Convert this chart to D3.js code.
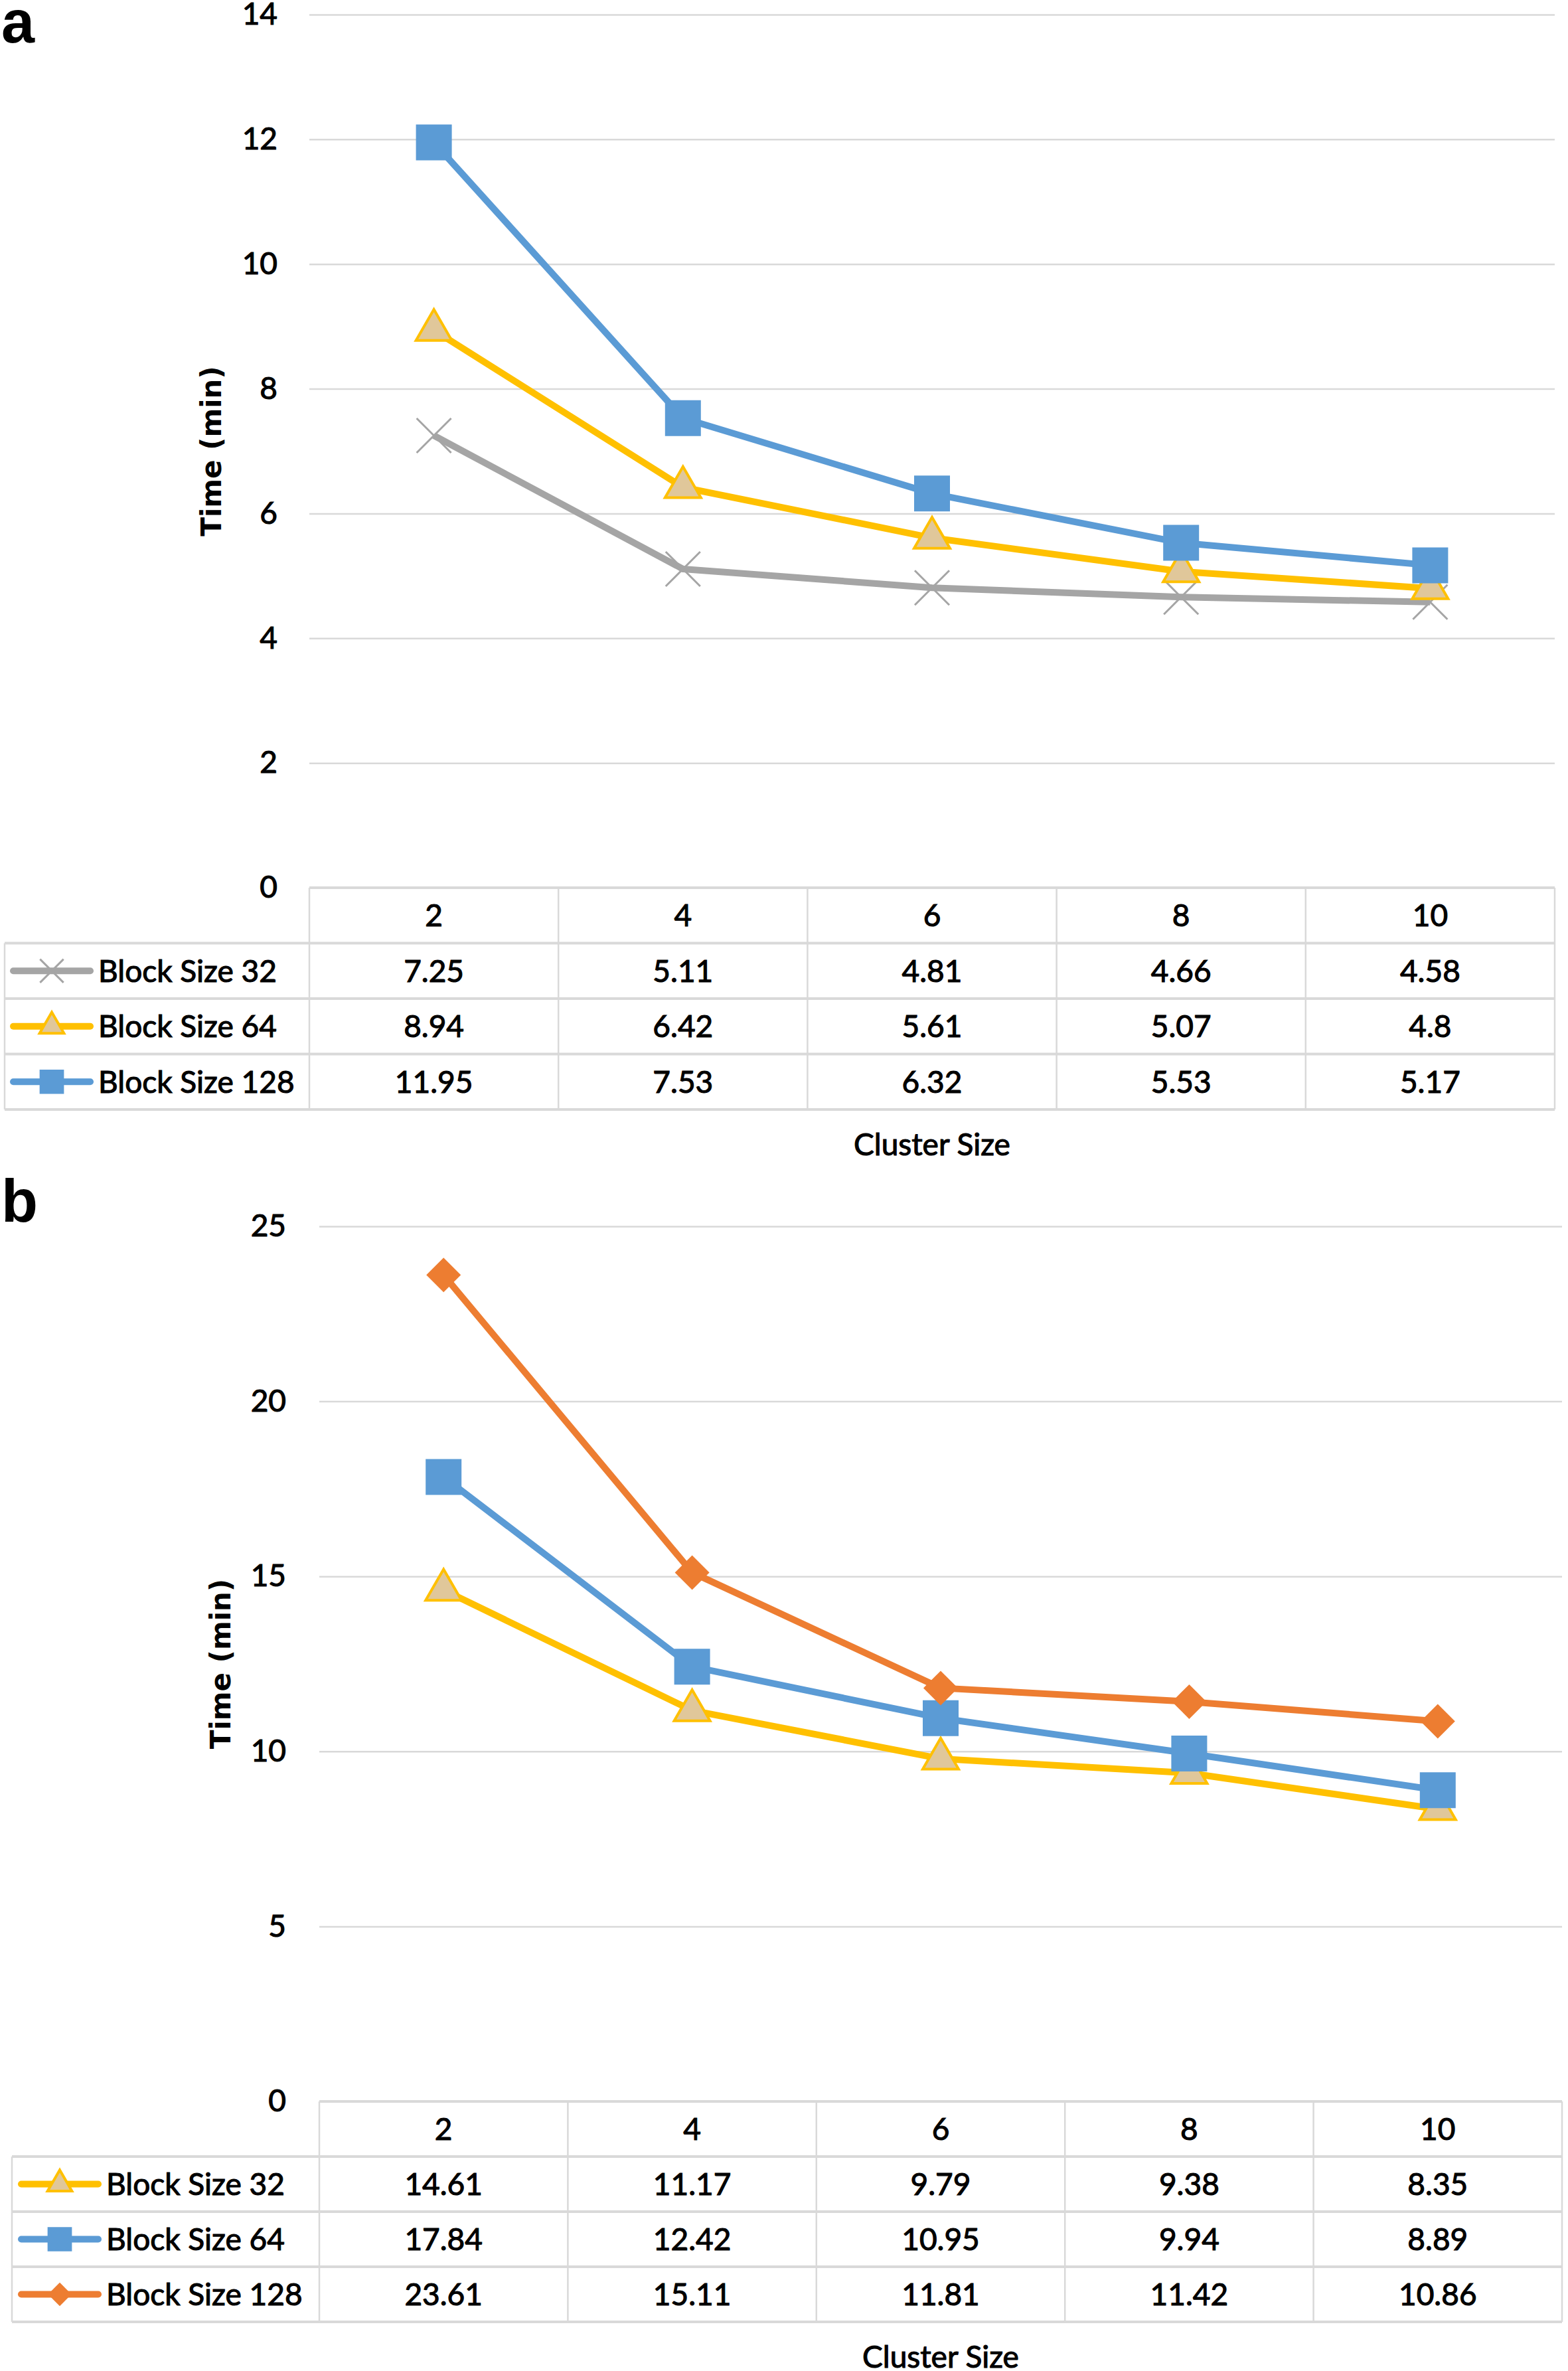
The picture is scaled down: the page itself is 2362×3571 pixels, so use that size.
<!DOCTYPE html>
<meta charset="utf-8">
<html>
<head>
<script src="https://d3js.org/d3.v7.min.js"></script>
<style>
  body { margin: 0; background: #fff; }
  text { font-family: Lato, "Liberation Sans", sans-serif; fill: #000; }
  .ink { stroke: #000; stroke-width: 1.1px; }
</style>
</head>
<body>
<script>
// cluster sizes (x categories, also the table header)
const clusterSizes = [2, 4, 6, 8, 10];

// panel a
const aNames = ["Block Size 32", "Block Size 64", "Block Size 128"];
const a32 = [7.25, 5.11, 4.81, 4.66, 4.58];
const a64 = [8.94, 6.42, 5.61, 5.07, 4.8];
const a128 = [11.95, 7.53, 6.32, 5.53, 5.17];
const aTicks = [0, 2, 4, 6, 8, 10, 12, 14];

// panel b
const bNames = ["Block Size 32", "Block Size 64", "Block Size 128"];
const b32 = [14.61, 11.17, 9.79, 9.38, 8.35];
const b64 = [17.84, 12.42, 10.95, 9.94, 8.89];
const b128 = [23.61, 15.11, 11.81, 11.42, 10.86];
const bTicks = [0, 5, 10, 15, 20, 25];

const GRAY = "#A5A5A5", YEL = "#FFC000", BLUE = "#5B9BD5", ORANGE = "#ED7D31";
const GRID = "#D9D9D9";

const W = 2362, H = 3571;
const svg = d3.select("body").append("svg")
  .attr("width", W)
  .attr("height", H);

// marker shapes, drawn round (0,0)
function markerPath(kind, s) {
  if (kind == "square") return d3.symbol(d3.symbolSquare, s * s)();
  if (kind == "triangle") return d3.symbol(d3.symbolTriangle, s * s * Math.sqrt(3) / 4)();
  if (kind == "diamond") return d3.symbol(d3.symbolSquare, s * s / 2)();
  // X
  const p = d3.path(), h = s / 2;
  p.moveTo(-h, -h); p.lineTo(h, h);
  p.moveTo(-h, h); p.lineTo(h, -h);
  return p.toString();
}

function addMarker(g, kind, color, s, tx, ty) {
  const m = g.append("path")
    .attr("d", markerPath(kind, s))
    .attr("transform", `translate(${tx},${ty})` + (kind == "diamond" ? " rotate(45)" : ""));
  if (kind == "x") {
    m.attr("fill", "none").attr("stroke", color).attr("stroke-width", 3);
  } else if (kind == "triangle") {
    m.attr("fill", "#E0C79A").attr("stroke", color).attr("stroke-width", 4);
  } else {
    m.attr("fill", color);
  }
}

function drawPanel(cfg) {
  const g = svg.append("g");

  // panel letter
  g.append("text")
    .attr("x", cfg.labelX)
    .attr("y", cfg.labelY)
    .style("font-family", "'Liberation Sans', Arial, sans-serif")
    .style("font-weight", "bold")
    .style("font-size", "90px")
    .text(cfg.label);

  const x = d3.scaleBand()
    .domain(clusterSizes)
    .range([cfg.left, cfg.right]);
  const cx = d => x(d) + x.bandwidth() / 2;

  const y = d3.scaleLinear()
    .domain([0, cfg.yMax])
    .range([cfg.zero, cfg.top]);

  // y axis with gridlines
  const yAxis = g.append("g")
    .attr("transform", `translate(${cfg.left},0)`)
    .call(d3.axisLeft(y).tickValues(cfg.ticks).tickSize(-(cfg.right - cfg.left)).tickPadding(cfg.tickPad));
  yAxis.select(".domain").remove();
  yAxis.selectAll("line").attr("stroke", GRID).attr("stroke-width", 2.5);
  yAxis.selectAll("text")
    .attr("class", "ink")
    .style("font-family", "Lato, sans-serif")
    .style("font-size", "46px")
    .attr("fill", "#000");

  g.append("text")
    .attr("transform", `translate(${cfg.titleX},${(cfg.top + cfg.zero) / 2}) rotate(-90)`)
    .attr("text-anchor", "middle")
    .attr("dy", "0.36em")
    .style("font-family", "'DejaVu Sans', sans-serif")
    .style("font-weight", "bold")
    .style("font-size", "42px")
    .text("Time (min)");

  // series lines + markers
  const line = d3.line()
    .x((v, i) => cx(clusterSizes[i]))
    .y(v => y(v));

  cfg.series.forEach(s => {
    g.append("path")
      .attr("d", line(s.values))
      .attr("fill", "none")
      .attr("stroke", s.color)
      .attr("stroke-width", 10)
      .attr("stroke-linejoin", "round");
    s.values.forEach((v, i) => addMarker(g, s.marker, s.color, s.size, cx(clusterSizes[i]), y(v)));
  });

  // data table under the plot
  const rh = cfg.rowH;
  const bottom = cfg.zero + rh * (cfg.series.length + 1);
  const t = g.append("g");

  // horizontal rules
  t.append("line")
    .attr("x1", cfg.left).attr("x2", cfg.right)
    .attr("y1", cfg.zero).attr("y2", cfg.zero);
  for (let i = 1; i <= cfg.series.length + 1; i++) {
    t.append("line")
      .attr("x1", cfg.tableLeft).attr("x2", cfg.right)
      .attr("y1", cfg.zero + rh * i).attr("y2", cfg.zero + rh * i);
  }
  t.selectAll("line").attr("stroke", GRID).attr("stroke-width", 4);

  // vertical rules
  t.append("line")
    .attr("x1", cfg.tableLeft).attr("x2", cfg.tableLeft)
    .attr("y1", cfg.zero + rh).attr("y2", bottom)
    .attr("stroke", GRID).attr("stroke-width", 2.5);
  clusterSizes.forEach(c => {
    t.append("line")
      .attr("x1", x(c)).attr("x2", x(c))
      .attr("y1", cfg.zero).attr("y2", bottom)
      .attr("stroke", GRID).attr("stroke-width", 2.5);
  });
  t.append("line")
    .attr("x1", cfg.right).attr("x2", cfg.right)
    .attr("y1", cfg.zero).attr("y2", bottom)
    .attr("stroke", GRID).attr("stroke-width", 2.5);

  // header
  clusterSizes.forEach(c => {
    t.append("text")
      .attr("class", "ink")
      .attr("x", cx(c)).attr("y", cfg.zero + rh / 2)
      .attr("dy", "0.36em")
      .attr("text-anchor", "middle")
      .style("font-size", "46px")
      .text(c);
  });

  // rows
  cfg.series.forEach((s, r) => {
    const ry = cfg.zero + rh * (r + 1) + rh / 2;
    t.append("line")
      .attr("x1", cfg.keyX0).attr("x2", cfg.keyX1)
      .attr("y1", ry).attr("y2", ry)
      .attr("stroke", s.color).attr("stroke-width", 10)
      .attr("stroke-linecap", "round");
    addMarker(t, s.marker, s.color, s.size * 0.68, (cfg.keyX0 + cfg.keyX1) / 2, ry);
    t.append("text")
      .attr("class", "ink")
      .attr("x", cfg.nameX).attr("y", ry)
      .attr("dy", "0.36em")
      .style("font-size", "46px")
      .text(s.name);
    s.values.forEach((v, i) => {
      t.append("text")
        .attr("class", "ink")
        .attr("x", cx(clusterSizes[i])).attr("y", ry)
        .attr("dy", "0.36em")
        .attr("text-anchor", "middle")
        .style("font-size", "46px")
        .text(v);
    });
  });

  g.append("text")
    .attr("class", "ink")
    .attr("x", cfg.clusterX).attr("y", cfg.clusterY)
    .attr("text-anchor", "middle")
    .style("font-size", "46px")
    .text("Cluster Size");
}

drawPanel({
  label: "a", labelX: 2, labelY: 64,
  left: 466, right: 2342, top: 22, zero: 1337, yMax: 14, ticks: aTicks, tickPad: 48,
  titleX: 318, tableLeft: 7, rowH: 83.5,
  keyX0: 20, keyX1: 136, nameX: 148,
  clusterX: 1404, clusterY: 1740,
  series: [
    {name: aNames[0], values: a32, color: GRAY, marker: "x", size: 52},
    {name: aNames[1], values: a64, color: YEL, marker: "triangle", size: 54},
    {name: aNames[2], values: a128, color: BLUE, marker: "square", size: 54}
  ]
});

drawPanel({
  label: "b", labelX: 2, labelY: 1840,
  left: 481, right: 2353, top: 1847, zero: 3165, yMax: 25, ticks: bTicks, tickPad: 50,
  titleX: 332, tableLeft: 18, rowH: 83,
  keyX0: 32, keyX1: 148, nameX: 160,
  clusterX: 1417, clusterY: 3566,
  series: [
    {name: bNames[0], values: b32, color: YEL, marker: "triangle", size: 54},
    {name: bNames[1], values: b64, color: BLUE, marker: "square", size: 54},
    {name: bNames[2], values: b128, color: ORANGE, marker: "diamond", size: 52}
  ]
});
</script>
</body>
</html>
